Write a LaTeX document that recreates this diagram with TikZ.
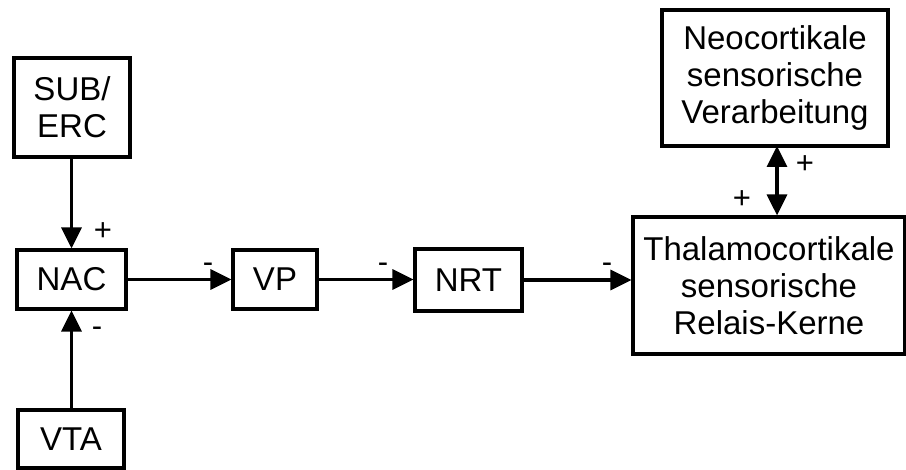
\documentclass[tikz,border=0pt]{standalone}
\usepackage{fontspec}
\setmainfont{Liberation Sans}
\usetikzlibrary{arrows.meta}
\begin{document}
\begin{tikzpicture}[x=1pt,y=-1pt,
  box/.style={draw,line width=3.2pt,rectangle,inner sep=0pt,align=center,
    font=\fontsize{33}{37}\selectfont},
  conn/.style={line width=3.2pt,-{Triangle[length=21pt,width=20pt]}},
  sign/.style={inner sep=0pt,font=\fontsize{31}{31}\selectfont}]
\useasboundingbox (0,0) rectangle (906,470);
\node[box,minimum width=116pt,minimum height=99pt] (sub) at (72,107.5) {SUB/\\ERC};
\node[box,minimum width=109pt,minimum height=59pt] (nac) at (71.5,279.5) {NAC};
\node[box,minimum width=106pt,minimum height=58pt] (vta) at (71,439) {VTA};
\node[box,minimum width=84pt,minimum height=59pt] (vp) at (275,279.5) {VP};
\node[box,minimum width=107pt,minimum height=62pt] (nrt) at (468.5,280) {NRT};
\node[box,minimum width=272pt,minimum height=137pt] (thal) at (769,285.5) {Thalamocortikale\\sensorische\\Relais-Kerne};
\node[box,minimum width=226pt,minimum height=136pt] (neo) at (775,78) {Neocortikale\\sensorische\\Verarbeitung};
\draw[conn] (sub.south -| nac.north) -- (nac.north);
\draw[conn] (vta.north -| nac.south) -- (nac.south);
\draw[conn] (nac.east) -- (vp.west);
\draw[conn] (vp.east) -- (vp.east -| nrt.west);
\draw[conn] (nrt.east) -- (nrt.east -| thal.west);
\draw[line width=3.2pt,{Triangle[length=21pt,width=20pt]}-{Triangle[length=21pt,width=20pt]}] (777,146) coordinate (na) -- (na |- thal.north);
\node[sign] (p1) at (103,232) {+};
\node[sign] (m1) at (97,332) {-};
\node[sign] (m2) at (208,268) {-};
\node[sign] (m3) at (383,268) {-};
\node[sign] (m4) at (607,268) {-};
\node[sign] (p2) at (805,165) {+};
\node[sign] (p3) at (742,200) {+};
\end{tikzpicture}
\end{document}
